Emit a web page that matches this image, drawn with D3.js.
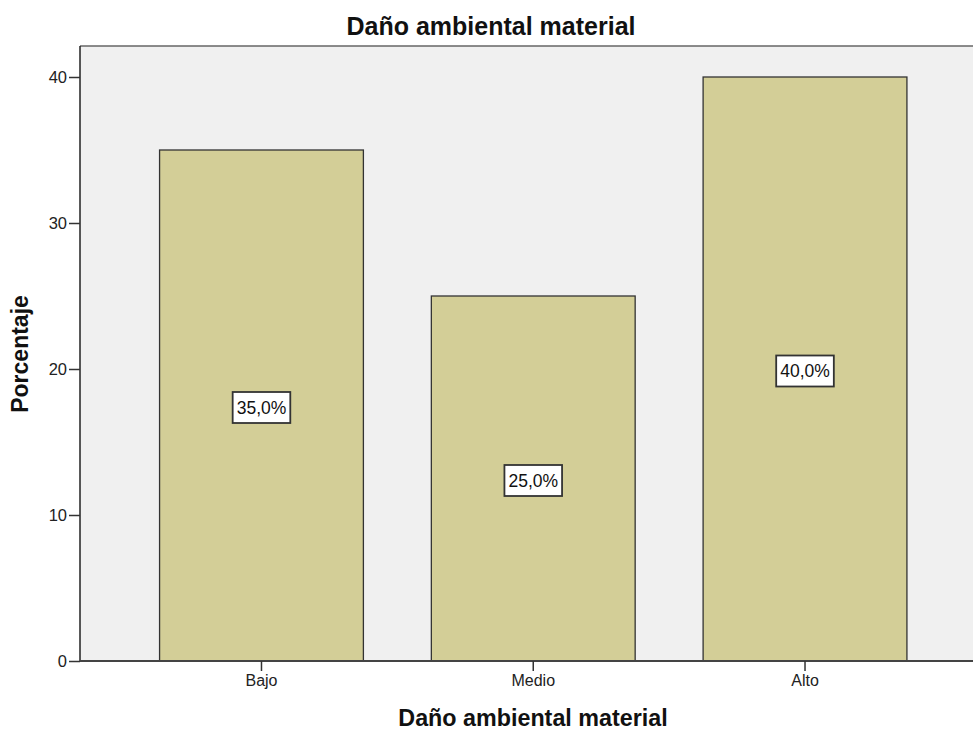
<!DOCTYPE html>
<html>
<head>
<meta charset="utf-8">
<script src="https://cdn.jsdelivr.net/npm/d3@7"></script>
<style>
html,body{margin:0;padding:0;background:#fff;}
svg{display:block;font-family:"Liberation Sans",Arial,sans-serif;}
</style>
</head>
<body>
<svg id="chart" width="973" height="733"></svg>
<script>
const categories = ["Bajo", "Medio", "Alto"];
const values = [35, 25, 40];
const valueLabels = ["35,0%", "25,0%", "40,0%"];
const yTicks = [0, 10, 20, 30, 40];
const chartTitle = "Daño ambiental material";
const xTitle = "Daño ambiental material";
const yTitle = "Porcentaje";

const svg = d3.select("#chart");
const plot = {left: 80, top: 46, right: 975, bottom: 661};

const y = d3.scaleLinear().domain([0, 40]).range([661, 77]);
const x = d3.scaleBand().domain(categories).range([125.6, 940.9]).paddingInner(0.25).paddingOuter(0.125);

// plot background
svg.append("rect")
  .attr("x", plot.left).attr("y", plot.top)
  .attr("width", plot.right - plot.left).attr("height", plot.bottom - plot.top)
  .attr("fill", "#f0f0f0");

// top border
svg.append("line")
  .attr("x1", plot.left).attr("x2", plot.right)
  .attr("y1", plot.top).attr("y2", plot.top)
  .attr("stroke", "#666").attr("stroke-width", 1.5);

// bars
svg.append("g").selectAll("rect").data(categories).join("rect")
  .attr("x", d => x(d))
  .attr("y", (d, i) => y(values[i]))
  .attr("width", x.bandwidth())
  .attr("height", (d, i) => y(0) - y(values[i]))
  .attr("fill", "#d3ce97")
  .attr("stroke", "#333")
  .attr("stroke-width", 1.3);

// y axis
const yAxis = svg.append("g").attr("transform", `translate(${plot.left},0)`)
  .call(d3.axisLeft(y).tickValues(yTicks).tickSize(11).tickPadding(2).tickFormat(d3.format("d")));
yAxis.select(".domain").attr("d", `M0,${plot.top}V${plot.bottom}`).attr("stroke", "#222").attr("stroke-width", 1.5);
yAxis.selectAll(".tick line").attr("stroke", "#333").attr("stroke-width", 1.5);
yAxis.selectAll(".tick text").attr("font-size", 16.5).attr("fill", "#222").attr("font-family", "Liberation Sans, Arial, sans-serif");

// x axis
const xAxis = svg.append("g").attr("transform", `translate(0,${plot.bottom})`)
  .call(d3.axisBottom(x).tickSize(10).tickPadding(4));
xAxis.select(".domain").attr("d", `M${plot.left},0H${plot.right}`).attr("stroke", "#444").attr("stroke-width", 2);
xAxis.selectAll(".tick line").attr("stroke", "#333").attr("stroke-width", 1.5);
xAxis.selectAll(".tick text").attr("font-size", 16).attr("fill", "#222").attr("font-family", "Liberation Sans, Arial, sans-serif");

// value labels
const lab = svg.append("g").selectAll("g").data(categories).join("g")
  .attr("transform", (d, i) => `translate(${x(d) + x.bandwidth() / 2},${(y(values[i]) + y(0)) / 2 + 2})`);
lab.append("text")
  .attr("text-anchor", "middle").attr("dy", "0.35em")
  .attr("font-size", 17.5).attr("fill", "#111")
  .text((d, i) => valueLabels[i]);
lab.each(function() {
  const g = d3.select(this);
  const b = g.select("text").node().getBBox();
  g.insert("rect", "text")
    .attr("x", b.x - 4).attr("y", -15.5)
    .attr("width", b.width + 8).attr("height", 31)
    .attr("fill", "#fff").attr("stroke", "#333").attr("stroke-width", 1.8);
});

// titles
svg.append("text").attr("x", 491).attr("y", 35).attr("text-anchor", "middle")
  .attr("font-size", 25).attr("font-weight", "bold").attr("fill", "#111").text(chartTitle);
svg.append("text").attr("x", 533).attr("y", 726).attr("text-anchor", "middle")
  .attr("font-size", 23.3).attr("font-weight", "bold").attr("fill", "#111").text(xTitle);
svg.append("text").attr("transform", "translate(28,354) rotate(-90)").attr("text-anchor", "middle")
  .attr("font-size", 23).attr("font-weight", "bold").attr("fill", "#111").text(yTitle);
</script>
</body>
</html>
